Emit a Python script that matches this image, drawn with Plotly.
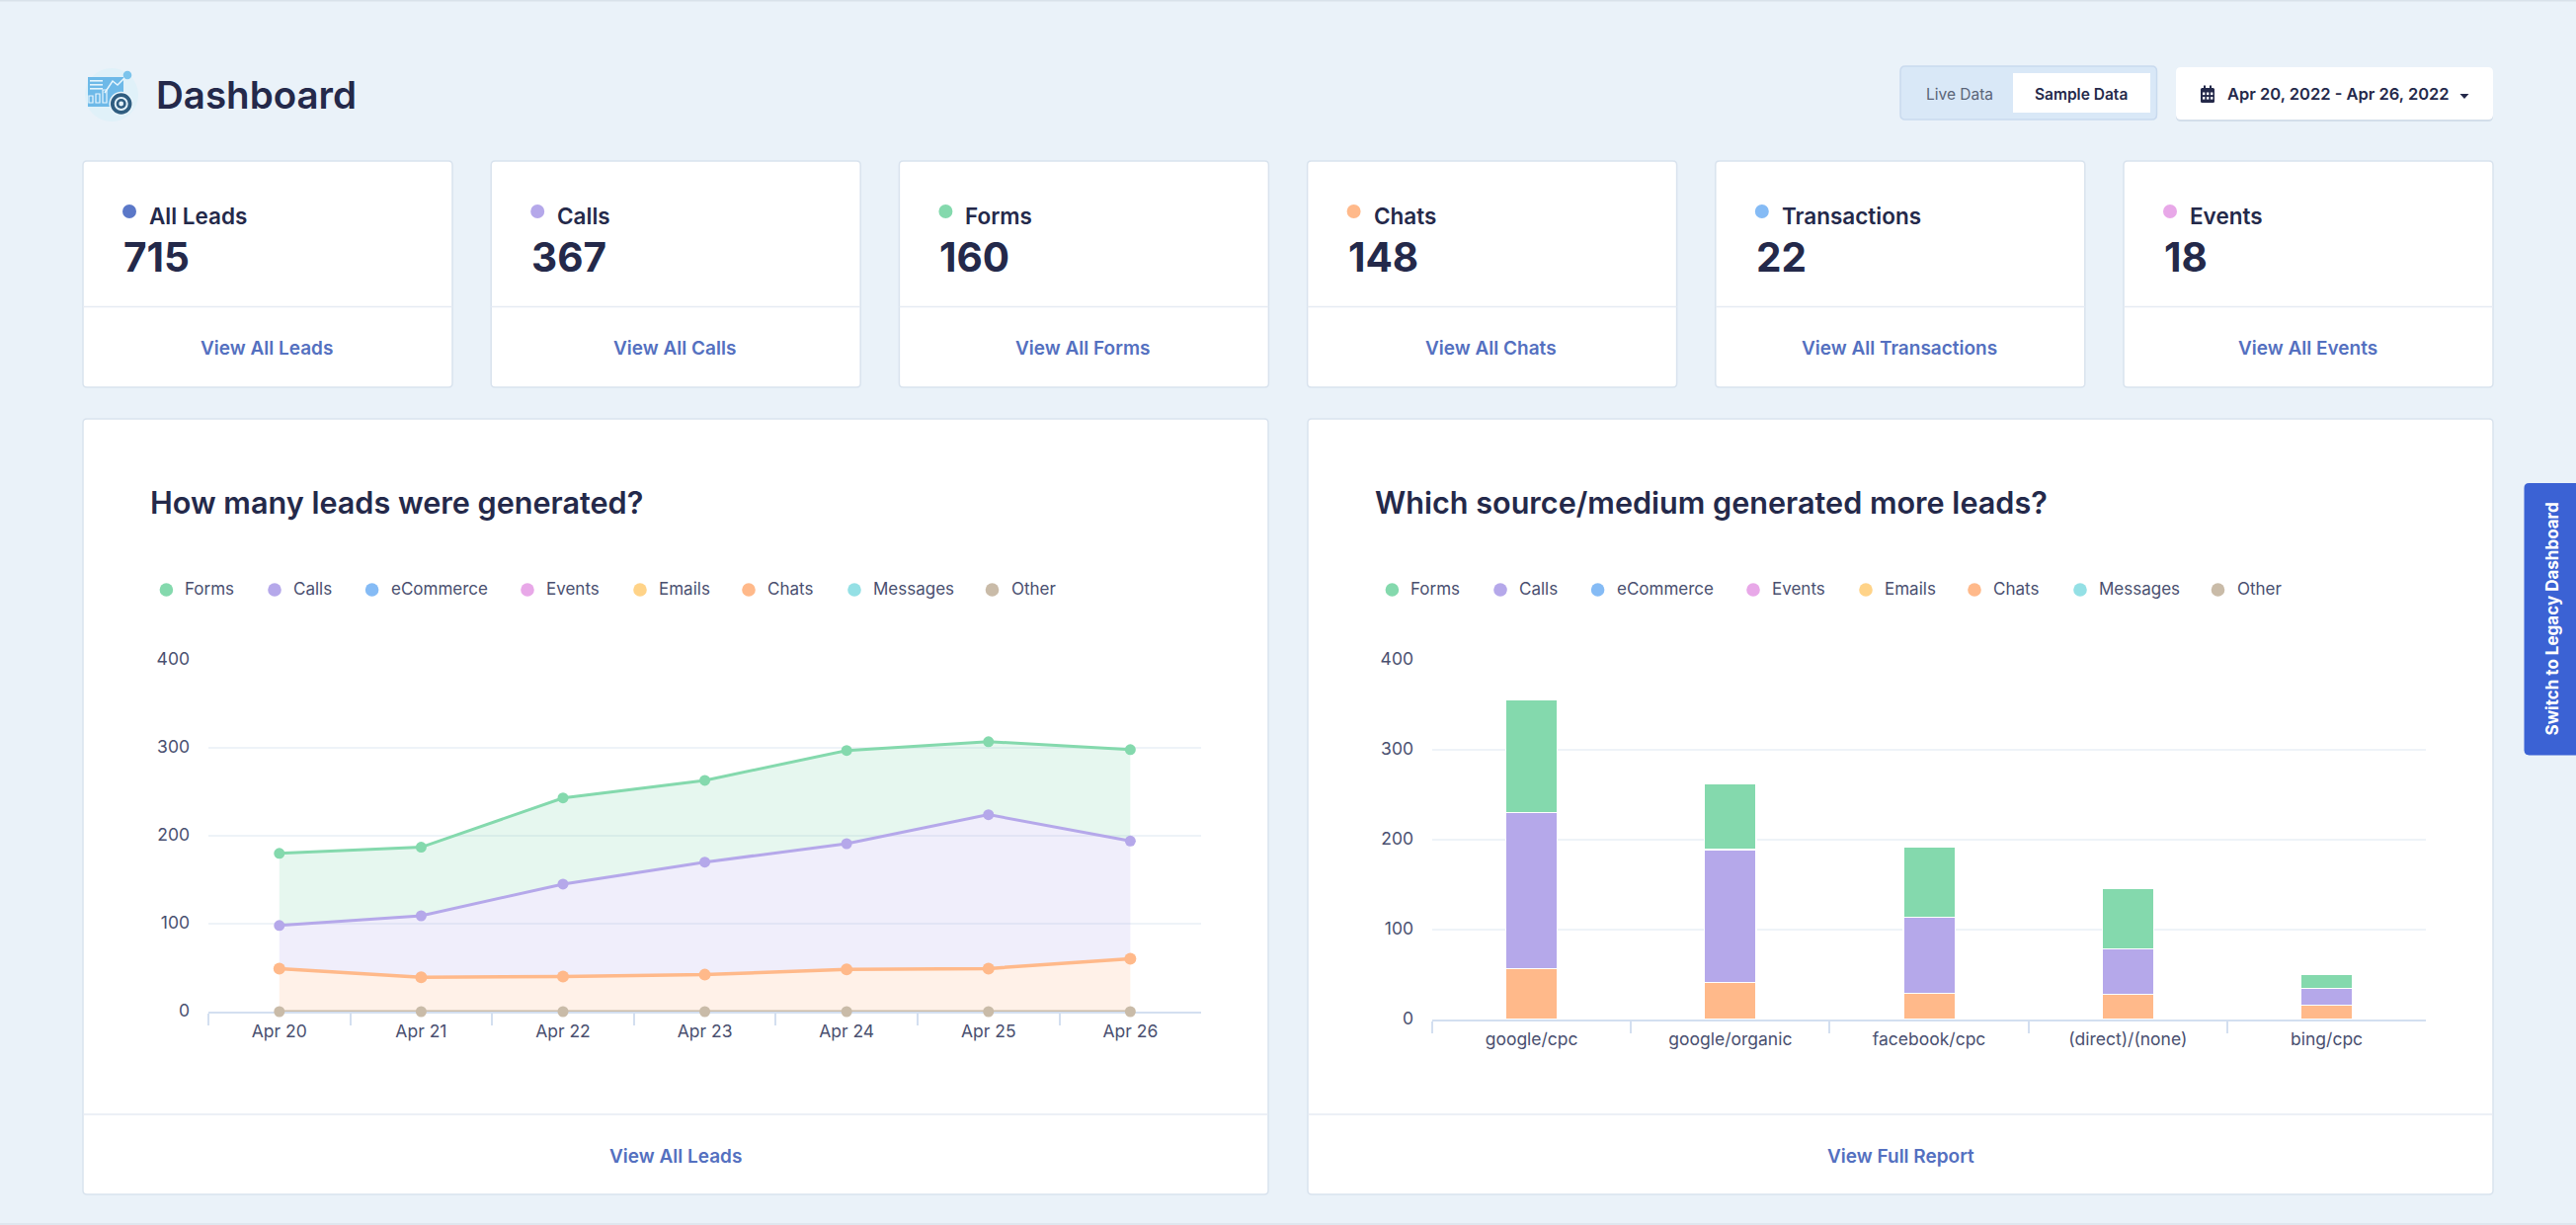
import plotly.graph_objects as go

W, H = 2608, 1240
FONT = "Inter"
DARK = "#24294a"
GREY = "#4a5070"
LINK = "#5470c0"
BG = "#eaf2f9"

# legend / series colours
series_names = ["Forms", "Calls", "eCommerce", "Events", "Emails", "Chats", "Messages", "Other"]
series_colors = ["#84d9ad", "#b5a8ea", "#85bbf5", "#e8a8e8", "#ffd388", "#ffb98a", "#94e0e5", "#c9bba8"]
color_of = dict(zip(series_names, series_colors))

# line chart
days = ["Apr 20", "Apr 21", "Apr 22", "Apr 23", "Apr 24", "Apr 25", "Apr 26"]
line_forms = [180, 187, 243, 263, 297, 307, 298]
line_calls = [98, 109, 145, 170, 191, 224, 194]
line_chats = [49, 39, 40, 42, 48, 49, 60]
line_other = [0, 0, 0, 0, 0, 0, 0]

# bar chart
sources = ["google/cpc", "google/organic", "facebook/cpc", "(direct)/(none)", "bing/cpc"]
bar_chats = [57, 41, 29, 28, 16]
bar_calls = [173, 148, 85, 51, 19]
bar_forms = [126, 73, 78, 67, 15]

# summary cards
card_labels = ["All Leads", "Calls", "Forms", "Chats", "Transactions", "Events"]
card_values = ["715", "367", "160", "148", "22", "18"]
card_links = ["View All Leads", "View All Calls", "View All Forms", "View All Chats", "View All Transactions", "View All Events"]
card_colors = ["#5b78c8", "#b5a8ea", "#84d9ad", "#ffb98a", "#85bbf5", "#e8a8e8"]


def px(x):
    return x / W


def py(y):
    return 1 - y / H


shapes = []
annotations = []


def text(x, y, s, size, color=DARK, weight=400, anchor="left", angle=0):
    annotations.append(dict(x=px(x), y=py(y), xref="paper", yref="paper", text=s, showarrow=False,
                            xanchor=anchor, yanchor="middle", textangle=angle,
                            font=dict(family=FONT, size=size, color=color, weight=weight)))


def rect(x0, y0, x1, y1, fill, line=None, width=1):
    shapes.append(dict(type="rect", xref="paper", yref="paper", x0=px(x0), y0=py(y0), x1=px(x1), y1=py(y1),
                       fillcolor=fill, line=dict(color=line or fill, width=width if line else 0), layer="below"))


def dot(cx, cy, r, fill, line=None, width=0):
    shapes.append(dict(type="circle", xref="paper", yref="paper", x0=px(cx - r), y0=py(cy - r), x1=px(cx + r), y1=py(cy + r),
                       fillcolor=fill, line=dict(color=line or fill, width=width), layer="below"))


def rounded(x0, y0, x1, y1, r, fill, line=None, width=1, corners=(1, 1, 1, 1)):
    # path in paper coords so the box stays put, corners = tl, tr, br, bl
    tl, tr, br, bl = [r * c for c in corners]
    def p(x, y):
        return f"{px(x):.6f},{py(y):.6f}"
    d = (f"M {p(x0 + tl, y0)} L {p(x1 - tr, y0)} Q {p(x1, y0)} {p(x1, y0 + tr)} "
         f"L {p(x1, y1 - br)} Q {p(x1, y1)} {p(x1 - br, y1)} "
         f"L {p(x0 + bl, y1)} Q {p(x0, y1)} {p(x0, y1 - bl)} "
         f"L {p(x0, y0 + tl)} Q {p(x0, y0)} {p(x0 + tl, y0)} Z")
    shapes.append(dict(type="path", xref="paper", yref="paper", path=d, fillcolor=fill,
                       line=dict(color=line or fill, width=width if line else 0), layer="below"))


def hline(x0, x1, y, color="#e6ebf3", width=1.5):
    shapes.append(dict(type="line", xref="paper", yref="paper", x0=px(x0), x1=px(x1), y0=py(y), y1=py(y),
                       line=dict(color=color, width=width), layer="below"))


# page edges
rect(0, 0, W, 1.5, "#d9e2ea")
rect(0, 1238, W, 1240, "#dfe7ef")

# header icon
dot(113, 96, 27, "#e0f1f9")
rect(89, 78, 125, 108, "#6db9e8")
for yy in (81, 85, 89):
    rect(91, yy, 104, yy + 1.6, "#e4f4fc")
for xx, top in ((90, 97), (97, 95), (104, 91)):
    rect(xx, top, xx + 4, 104, "#6db9e8", "#e8f6fd", 1.2)
shapes.append(dict(type="path", xref="paper", yref="paper", layer="below", line=dict(color="#e8f6fd", width=1.5),
                   path=f"M {px(106)},{py(94)} L {px(114)},{py(82)} L {px(119)},{py(86)} L {px(128)},{py(77)}"))
dot(129, 76, 4.3, "#7cc4ec")
dot(122.7, 105, 11.5, "#2f5d80", "#e9f5fb", 1.5)
dot(122.7, 105, 7, "#e4f2f9")
dot(122.7, 105, 5, "#2f5d80")
dot(122.7, 105, 2.4, "#e4f2f9")
text(156, 96, "Dashboard", 38.5, DARK, 600)

# data toggle
rounded(1924, 67, 2183.5, 121, 5, "#d9e8f7", "#c9daee", 1.5)
rect(2038, 74, 2177, 114, "#ffffff")
text(1984, 95, "Live Data", 15.5, "#5a6478", 400, "center")
text(2107, 95, "Sample Data", 15.5, DARK, 600, "center")

# date button
rounded(2203, 70, 2524, 123, 5, "#d3deea")
rounded(2203, 68, 2524, 121, 5, "#ffffff")
rounded(2228, 89, 2242, 104, 1.5, "#24294a")
rect(2231, 86.5, 2233, 90, "#24294a")
rect(2237, 86.5, 2239, 90, "#24294a")
for gx in (2230, 2234, 2238):
    for gy in (93.5, 98):
        rect(gx, gy, gx + 2.4, gy + 2.6, "#ffffff")
text(2253, 95, "Apr 20, 2022 - Apr 26, 2022", 16.5, DARK, 600)
shapes.append(dict(type="path", xref="paper", yref="paper", fillcolor=DARK, line=dict(width=0), layer="below",
                   path=f"M {px(2490.5)},{py(95)} L {px(2499.5)},{py(95)} L {px(2495)},{py(100)} Z"))

# cards
for i, label in enumerate(card_labels):
    x0 = 84 + i * 413.2
    x1 = x0 + 374
    rounded(x0, 163, x1, 392, 4, "#ffffff", "#d9e3ee", 1.5)
    hline(x0, x1, 310.5)
    dot(x0 + 47, 214, 7, card_colors[i])
    text(x0 + 65, 218.5, label, 22.5, DARK, 600)
    text(x0 + 39, 260, card_values[i], 40.5, DARK, 700)
    text(x0 + 186, 352.5, card_links[i], 19, LINK, 600, "center")

# big panels
for x0, x1, title, link in ((84, 1284, "How many leads were generated?", "View All Leads"),
                            (1324, 2524, "Which source/medium generated more leads?", "View Full Report")):
    rounded(x0, 424, x1, 1209, 4, "#ffffff", "#d9e3ee", 1.5)
    hline(x0, x1, 1128)
    text(x0 + 65.5, 508, title, 30.6, DARK, 600)
    text((x0 + x1) / 2, 1170, link, 19, LINK, 600, "center")

# legends, same spacing in both panels
legend_dots = [168.4, 278, 376.6, 534, 648, 758, 865, 1004.5]
for off in (0, 1241):
    for name, c, lx in zip(series_names, series_colors, legend_dots):
        dot(lx + off, 597, 6.8, c)
        text(lx + off + 17, 596, name, 17, GREY)

# side tab
rounded(2555.5, 489, 2612, 764.5, 5, "#3b62d4", None, 0, (1, 0, 0, 1))
text(2583.5, 627, "Switch to Legacy Dashboard", 17, "#ffffff", 700, "center", -90)

fig = go.Figure()

# filled lines, each one fills down to the series under it
for name, vals, msize, width in (("Other", line_other, 11, 3), ("Chats", line_chats, 12, 3.5),
                                 ("Calls", line_calls, 11, 3), ("Forms", line_forms, 11, 3)):
    c = color_of[name]
    r, g, b = int(c[1:3], 16), int(c[3:5], 16), int(c[5:7], 16)
    fig.add_trace(go.Scatter(x=days, y=vals, name=name, mode="lines+markers", xaxis="x", yaxis="y",
                             line=dict(color=c, width=width), marker=dict(color=c, size=msize),
                             fill=None if name == "Other" else "tonexty",
                             fillcolor=f"rgba({r},{g},{b},0.2)", cliponaxis=False, showlegend=False))

for name, vals in (("Chats", bar_chats), ("Calls", bar_calls), ("Forms", bar_forms)):
    fig.add_trace(go.Bar(x=sources, y=vals, name=name, xaxis="x2", yaxis="y2", width=0.26,
                         marker=dict(color=color_of[name], line=dict(color="#ffffff", width=1.2)), showlegend=False))

axis_font = dict(family=FONT, size=17.5, color=GREY)
x_common = dict(type="category", tickson="boundaries", ticks="outside", ticklen=12, tickwidth=1.5, tickcolor="#d3dff0",
                showline=True, linecolor="#d3dff0", linewidth=2, showgrid=False, zeroline=False, automargin=False,
                tickfont=axis_font, ticklabelstandoff=3, layer="below traces")
y_common = dict(range=[0, 400], tickvals=[0, 100, 200, 300, 400], showgrid=True, gridcolor="#eef3f8", gridwidth=2,
                zeroline=False, showline=False, ticks="", automargin=False,
                tickfont=axis_font, ticklabelstandoff=18, ticklabelshift=-1)

fig.update_layout(
    width=W, height=H, margin=dict(l=0, r=0, t=0, b=0), autosize=False,
    paper_bgcolor=BG, plot_bgcolor="rgba(0,0,0,0)", barmode="stack",
    hovermode=False, dragmode=False,
    shapes=shapes, annotations=annotations,
    xaxis=dict(x_common, domain=[px(211), px(1216)], range=[-0.5, 6.499], anchor="y"),
    yaxis=dict(y_common, domain=[py(1024), py(668)], anchor="x"),
    xaxis2=dict(x_common, domain=[px(1450), px(2456)], range=[-0.5, 4.499], anchor="y2"),
    yaxis2=dict(y_common, domain=[py(1032), py(668)], anchor="x2"),
)

fig.write_html("out.html", config=dict(displayModeBar=False),
               post_script="document.body.style.margin='0';document.body.style.overflow='hidden';")
